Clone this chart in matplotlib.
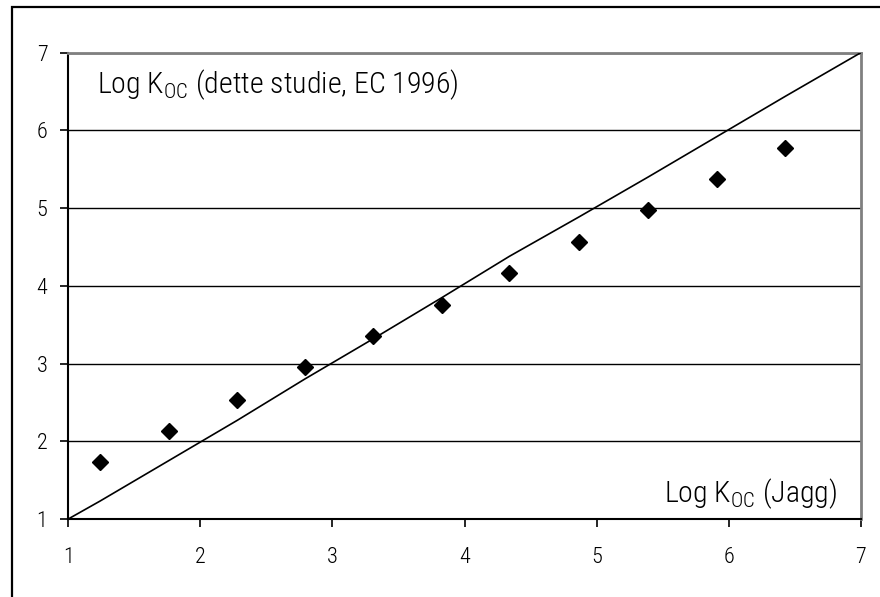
import matplotlib
matplotlib.use("Agg")
import matplotlib.pyplot as plt
from matplotlib import font_manager
from matplotlib.patches import Rectangle

# Log Koc values: Jagg estimate on x, this study (EC 1996) on y
koc_jagg = [1.24, 1.76, 2.28, 2.79, 3.31, 3.83, 4.34, 4.87, 5.39, 5.91, 6.43]
koc_study = [1.73, 2.13, 2.53, 2.95, 3.35, 3.75, 4.16, 4.57, 4.97, 5.37, 5.78]

# reference line (1:1)
line_x = [1.0, 1.24, 1.76, 2.28, 2.79, 3.31, 3.83, 4.34, 4.87, 5.39, 5.91, 6.43, 7.0]
line_y = [1.0, 1.23, 1.75, 2.27, 2.80, 3.32, 3.85, 4.38, 4.89, 5.40, 5.92, 6.44, 7.0]

ticks = [1, 2, 3, 4, 5, 6, 7]
ylabel_text = "Log K$_{\\mathrm{OC}}$ (dette studie, EC 1996)"
xlabel_text = "Log K$_{\\mathrm{OC}}$ (Jagg)"

available = {f.name for f in font_manager.fontManager.ttflist}
family = "DejaVu Sans"
for name in ["Liberation Sans Narrow", "Roboto Condensed", "DejaVu Sans Condensed", "Liberation Sans"]:
    if name in available:
        family = name
        break

plt.rcParams["font.family"] = family
plt.rcParams["font.weight"] = "light"
plt.rcParams["mathtext.fontset"] = "custom"
plt.rcParams["mathtext.rm"] = family + ":light"

fig = plt.figure(figsize=(8.8, 5.97), dpi=100)
ax = fig.add_axes([0.0776, 0.1307, 0.9005, 0.781])

# outer chart frame
fig.patches.append(Rectangle((12.3 / 880, -0.05), 1.0, (597 - 7.3) / 597 + 0.05,
                             transform=fig.transFigure, fill=False,
                             edgecolor="black", linewidth=1.6))

ax.set_xlim(1, 7)
ax.set_ylim(1, 7)
ax.set_xticks(ticks)
ax.set_yticks(ticks)
ax.yaxis.grid(True, color="black", linewidth=1.0)
ax.set_axisbelow(True)

ax.plot(line_x, line_y, color="black", linewidth=1.2, zorder=3)
ax.plot(koc_jagg, koc_study, linestyle="none", marker="D", markersize=7.7,
        color="black", zorder=4)

for side in ["left", "bottom"]:
    ax.spines[side].set_color("black")
    ax.spines[side].set_linewidth(1.5)
for side in ["top", "right"]:
    ax.spines[side].set_color("#808080")
    ax.spines[side].set_linewidth(2.0)

ax.tick_params(axis="both", direction="out", length=6, width=1.2, labelsize=16, color="black")
ax.tick_params(axis="x", pad=14)
ax.tick_params(axis="y", pad=9)

ax.text(0.036, 0.914, ylabel_text, transform=ax.transAxes, fontsize=21.5,
        ha="left", va="baseline")
ax.text(0.971, 0.037, xlabel_text, transform=ax.transAxes, fontsize=21.5,
        ha="right", va="baseline")

fig.savefig("out.png", dpi=100)
